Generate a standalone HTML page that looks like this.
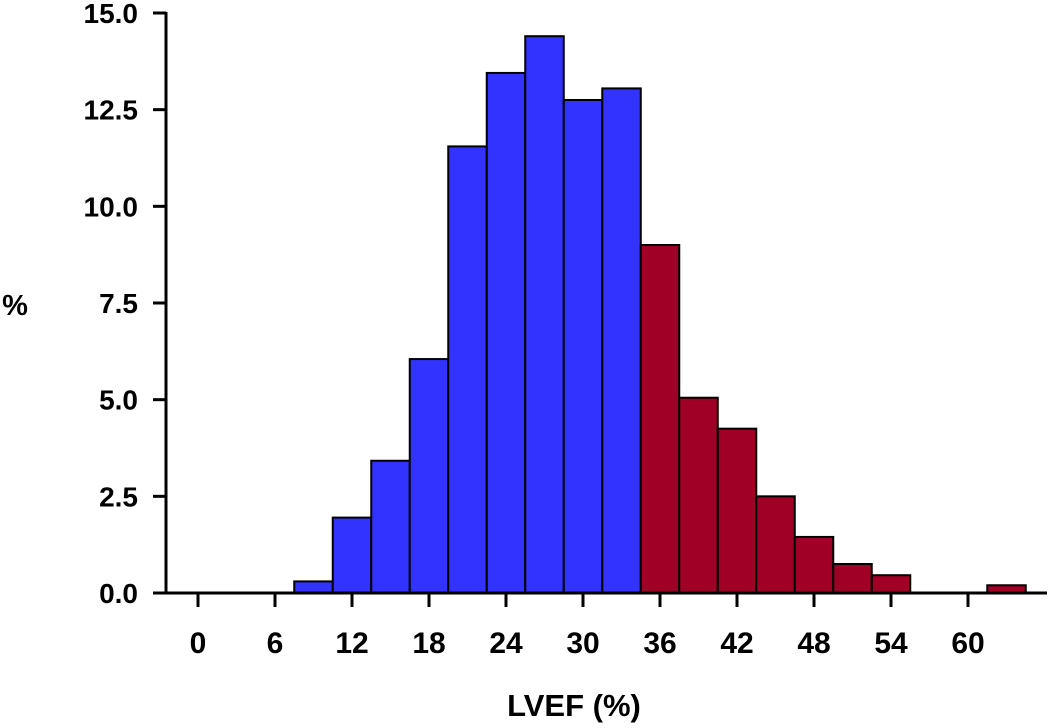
<!DOCTYPE html>
<html><head><style>
body{margin:0;background:#fff;}
svg text{font-family:"Liberation Sans",sans-serif;font-weight:bold;}
</style></head><body>
<svg id="chart" width="1050" height="723">
<g id="bars"></g><g id="axes"></g>
<text x="15" y="315" font-size="29" text-anchor="middle">%</text>
<text x="574" y="716" font-size="31" text-anchor="middle">LVEF (%)</text>
</svg>
<script>
const binStarts=[7.5,10.5,13.5,16.5,19.5,22.5,25.5,28.5,31.5,34.5,37.5,40.5,43.5,46.5,49.5,52.5,55.5,58.5,61.5];
const percents=[0.3,1.95,3.42,6.05,11.55,13.45,14.4,12.75,13.05,9.0,5.05,4.25,2.5,1.45,0.75,0.46,0,0,0.2];
const binWidth=3;
const cutoff=34.5;
const yTicks=[0,2.5,5,7.5,10,12.5,15];
const yTickLabels=["0.0","2.5","5.0","7.5","10.0","12.5","15.0"];
const xTicks=[0,6,12,18,24,30,36,42,48,54,60];
const NS="http://www.w3.org/2000/svg";
const x=v=>198+v*(770/60);
const y=v=>593-v*(580/15);
function mk(tag,attrs,parent){const e=document.createElementNS(NS,tag);for(const k in attrs)e.setAttribute(k,attrs[k]);parent.appendChild(e);return e;}
const axes=document.getElementById('axes'),bars=document.getElementById('bars');
let l=mk('line',{x1:166,y1:y(15)-1,x2:166,y2:594,stroke:'#000','stroke-width':3},axes);


l=mk('line',{x1:153,y1:593,x2:1047,y2:593,stroke:'#000','stroke-width':3},axes);


yTicks.forEach((t,i)=>{
 const tk=mk('line',{x1:153,y1:y(t),x2:166,y2:y(t),stroke:'#000','stroke-width':3},axes);
 
 
 const tx=mk('text',{x:138,y:y(t)+10,'font-size':28,'text-anchor':'end'},axes);
 tx.textContent=yTickLabels[i];
 
 
});
xTicks.forEach(t=>{
 const tk=mk('line',{x1:x(t),y1:593,x2:x(t),y2:607,stroke:'#000','stroke-width':3},axes);
 
 
 const tx=mk('text',{x:x(t),y:653,'font-size':30,'text-anchor':'middle'},axes);
 tx.textContent=t;
 
 
});
binStarts.forEach((b,i)=>{
 if(percents[i]<=0)return;
 const r=mk('rect',{x:x(b),y:y(percents[i]),width:x(b+binWidth)-x(b),height:593-y(percents[i]),fill:b<cutoff?'#3333ff':'#a00025',stroke:'#000','stroke-width':2},bars);
 
 
});
</script>
</body></html>
